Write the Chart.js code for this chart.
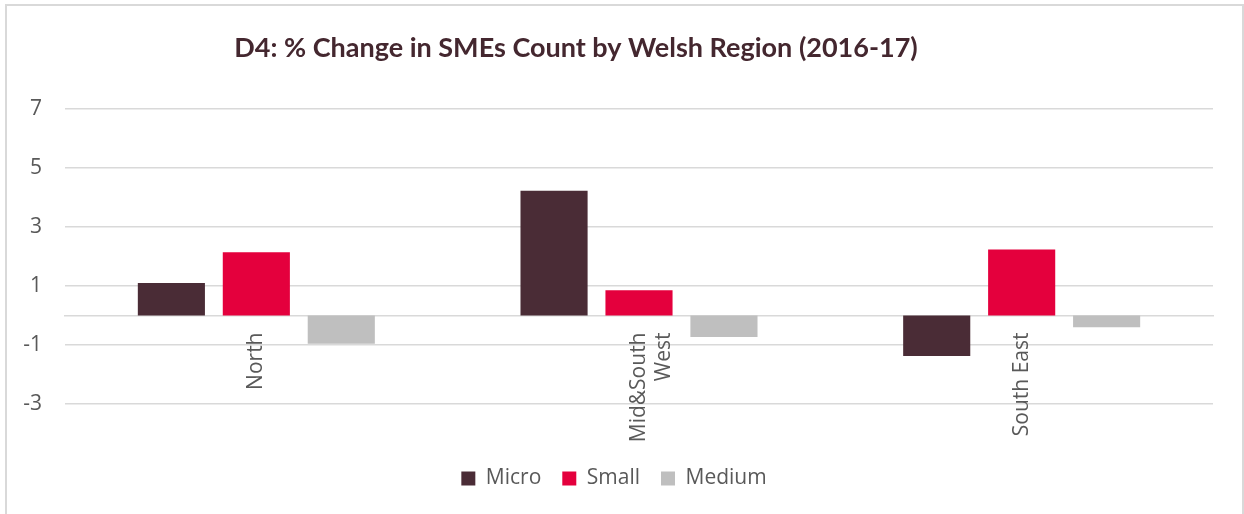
<!DOCTYPE html>
<html>
<head>
<meta charset="utf-8">
<script src="https://cdn.jsdelivr.net/npm/chart.js@4"></script>
<style>
  body { margin: 0; background: #fff; overflow: hidden; }
  #frame { position: absolute; left: 5px; top: 4px; width: 1235px; height: 540px; border: 2px solid #d9d9d9; }
  #wrap { position: absolute; left: 0; top: 0; width: 1244px; height: 514px; }
</style>
</head>
<body>
<div id="frame"></div>
<div id="wrap"><canvas id="myChart"></canvas></div>
<script>
const titleText = 'D4: % Change in SMEs Count by Welsh Region (2016-17)';
const regions = ['North', ['Mid&South', 'West'], 'South East'];
const micro = [1.1, 4.23, -1.37];
const small = [2.14, 0.86, 2.24];
const medium = [-0.96, -0.73, -0.4];
const yTicks = { min: -3, max: 7, step: 2 };

// title sits left of centre in the original, so it is drawn here
const titlePlugin = {
  id: 'offsetTitle',
  afterDraw(chart) {
    const c = chart.ctx;
    c.save();
    c.font = 'bold 27px Lato';
    c.fillStyle = '#44272f';
    c.textAlign = 'center';
    c.textBaseline = 'middle';
    c.fillText(titleText, 576, 48);
    c.restore();
  }
};

Chart.defaults.font.family = '"Open Sans", sans-serif';
Chart.defaults.color = '#595959';

let ctx = document.getElementById('myChart').getContext('2d');
let myChart = new Chart(ctx, {
  type: 'bar',
  data: {
    labels: regions,
    datasets: [
      { label: 'Micro', data: micro, backgroundColor: '#4a2c36' },
      { label: 'Small', data: small, backgroundColor: '#e4003d' },
      { label: 'Medium', data: medium, backgroundColor: '#bfbfbf' }
    ]
  },
  options: {
    responsive: true,
    maintainAspectRatio: false,
    animation: false,
    categoryPercentage: 0.666,
    barPercentage: 0.79,
    layout: { padding: { left: 15, right: 31, top: 109, bottom: 15 } },
    scales: {
      y: {
        min: yTicks.min,
        max: yTicks.max,
        ticks: { stepSize: yTicks.step, padding: 23, font: { size: 21 } },
        grid: { color: '#d9d9d9', lineWidth: 1.5, drawTicks: false },
        border: { display: false },
        afterFit: (s) => { s.width = 50; }
      },
      x: {
        position: { y: 0 },
        grid: { display: false, drawTicks: false },
        border: { display: true, color: '#d9d9d9', width: 1.5 },
        ticks: { minRotation: 90, maxRotation: 90, autoSkip: false, padding: 17, font: { size: 21 } }
      },
      gap: {
        type: 'category',
        position: 'bottom',
        grid: { display: false },
        border: { display: false },
        ticks: { display: false },
        afterFit: (s) => { s.height = 43; }
      }
    },
    plugins: {
      legend: {
        position: 'bottom',
        labels: { boxWidth: 14, boxHeight: 14, padding: 21, font: { size: 21 } }
      },
      tooltip: { enabled: false }
    }
  },
  plugins: [titlePlugin]
});
</script>
</body>
</html>
